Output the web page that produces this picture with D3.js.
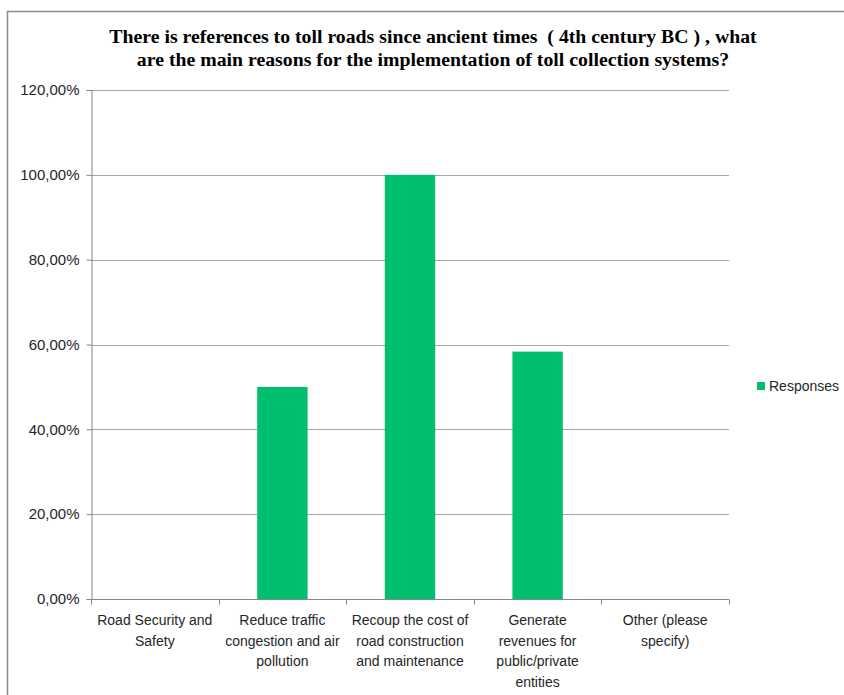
<!DOCTYPE html>
<html>
<head>
<meta charset="utf-8">
<script src="https://cdn.jsdelivr.net/npm/d3@7"></script>
<style>
  html, body { margin: 0; padding: 0; background: #fff; }
  svg { display: block; }
</style>
</head>
<body>
<svg id="chart" width="844" height="695"></svg>
<script>
// Survey question and answers
const titleLines = [
  "There is references to toll roads since ancient times  ( 4th century BC ) , what",
  "are the main reasons for the implementation of toll collection systems?"
];
const categories = [
  ["Road Security and", "Safety"],
  ["Reduce traffic", "congestion and air", "pollution"],
  ["Recoup the cost of", "road construction", "and maintenance"],
  ["Generate", "revenues for", "public/private", "entities"],
  ["Other (please", "specify)"]
];
const responses = [0, 0.50, 1.00, 0.5833, 0];
const yTicks = [0, 0.2, 0.4, 0.6, 0.8, 1.0, 1.2];
const seriesName = "Responses";

const barColor = "#00c070";
const axisColor = "#868686";
const gridColor = "#a6a6a6";
const labelFont = "'Liberation Sans', Arial, sans-serif";

const svg = d3.select("#chart");

// Outer chart frame
svg.append("rect")
  .attr("x", 7.5).attr("y", 11.5)
  .attr("width", 900).attr("height", 800)
  .attr("fill", "none").attr("stroke", "#8c8c8c").attr("stroke-width", 1.5);

const plot = { left: 91, right: 729, top: 90, bottom: 599 };

const x = d3.scaleBand()
  .domain(d3.range(categories.length))
  .range([plot.left, plot.right])
  .paddingInner(0.605).paddingOuter(0.3025);

const xOuter = d3.scaleBand()
  .domain(d3.range(categories.length))
  .range([plot.left, plot.right]);

const y = d3.scaleLinear().domain([0, 1.2]).range([plot.bottom, plot.top]);

const fmt = v => d3.format(".2f")(v * 100).replace(".", ",") + "%";

// Gridlines
svg.append("g")
  .selectAll("line")
  .data(yTicks.filter(d => d > 0))
  .join("line")
  .attr("x1", plot.left).attr("x2", plot.right)
  .attr("y1", d => Math.round(y(d)) + 0.5).attr("y2", d => Math.round(y(d)) + 0.5)
  .attr("stroke", gridColor).attr("stroke-width", 1);

// Bars
svg.append("g")
  .selectAll("rect")
  .data(responses)
  .join("rect")
  .attr("x", (d, i) => x(i))
  .attr("width", x.bandwidth())
  .attr("y", d => y(d))
  .attr("height", d => y(0) - y(d))
  .attr("fill", barColor);

// Y axis
const yAxis = svg.append("g")
  .attr("transform", `translate(${plot.left + 0.5},0)`)
  .call(d3.axisLeft(y).tickValues(yTicks).tickFormat(fmt).tickSizeOuter(0).tickSize(5).tickPadding(7));
yAxis.select(".domain").attr("stroke", axisColor);
yAxis.selectAll(".tick line").attr("stroke", axisColor);
yAxis.selectAll(".tick text")
  .attr("fill", "#262626")
  .style("font-family", labelFont)
  .style("font-size", "15px");

// X axis with boundary ticks
const xg = svg.append("g").attr("transform", `translate(0,${plot.bottom + 0.5})`);
xg.append("line")
  .attr("x1", plot.left).attr("x2", plot.right)
  .attr("stroke", axisColor);
const bounds = d3.range(categories.length + 1).map(i =>
  i < categories.length ? xOuter(i) : xOuter(i - 1) + xOuter.bandwidth());
xg.selectAll("line.tk")
  .data(bounds)
  .join("line")
  .attr("class", "tk")
  .attr("x1", d => Math.round(d) + 0.5).attr("x2", d => Math.round(d) + 0.5)
  .attr("y1", 0).attr("y2", 5)
  .attr("stroke", axisColor);

// Category labels
const catText = svg.append("g")
  .selectAll("text")
  .data(categories)
  .join("text")
  .attr("x", (d, i) => xOuter(i) + xOuter.bandwidth() / 2)
  .attr("y", 625)
  .attr("text-anchor", "middle")
  .attr("fill", "#262626")
  .style("font-family", labelFont)
  .style("font-size", "14px");
catText.selectAll("tspan")
  .data(d => d)
  .join("tspan")
  .attr("x", function () { return d3.select(this.parentNode).attr("x"); })
  .attr("dy", (d, i) => i === 0 ? 0 : 20.5)
  .text(d => d);

// Title
svg.append("g")
  .selectAll("text")
  .data(titleLines)
  .join("text")
  .attr("x", 433)
  .attr("y", (d, i) => 43 + i * 23)
  .attr("text-anchor", "middle")
  .attr("fill", "#000")
  .style("white-space", "pre")
  .style("font-family", "'Liberation Serif', 'Times New Roman', serif")
  .style("font-weight", "bold")
  .style("font-size", "19.8px")
  .text(d => d);

// Legend
const legend = svg.append("g").attr("transform", "translate(757,382)");
legend.append("rect").attr("width", 8).attr("height", 8).attr("fill", barColor);
legend.append("text")
  .attr("x", 12).attr("y", 9)
  .attr("fill", "#262626")
  .style("font-family", labelFont)
  .style("font-size", "14px")
  .text(seriesName);
</script>
</body>
</html>
